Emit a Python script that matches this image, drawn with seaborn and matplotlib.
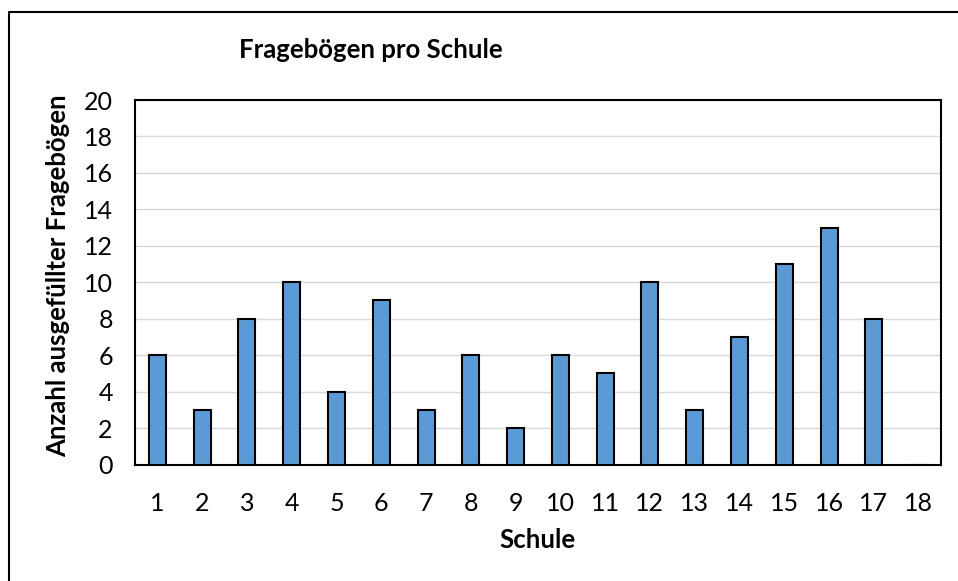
import matplotlib
matplotlib.use("Agg")
import matplotlib.pyplot as plt
import seaborn as sns
import pandas as pd
from matplotlib.lines import Line2D

schools = [str(i) for i in range(1, 19)]
counts = [6, 3, 8, 10, 4, 9, 3, 6, 2, 6, 5, 10, 3, 7, 11, 13, 8, 0]
yticks = list(range(0, 21, 2))

title = "Fragebögen pro Schule"
xlabel = "Schule"
ylabel = "Anzahl ausgefüllter Fragebögen"

sns.set_theme(style="white")
plt.rcParams["font.family"] = ["Lato", "DejaVu Sans"]

W, H = 958, 581
fig = plt.figure(figsize=(W / 100, H / 100), dpi=100)
fig.patch.set_facecolor("white")

# outer chart frame (left and top edges visible)
fig.add_artist(Line2D([9 / W, 9 / W, 1.01], [-0.01, 1 - 12 / H, 1 - 12 / H],
                      transform=fig.transFigure, color="black", lw=1.5))

ax = fig.add_axes([135 / W, 1 - 464.5 / H, 806 / W, 364.5 / H])
df = pd.DataFrame({"Schule": schools, "Anzahl": counts})
sns.barplot(data=df, x="Schule", y="Anzahl", ax=ax, color="#5B9BD5",
            saturation=1, width=0.38, edgecolor="black", linewidth=1.5, zorder=3)

ax.set_xlim(-0.5, len(schools) - 0.5)
ax.set_ylim(0, 20)
ax.set_yticks(yticks)
ax.set_yticklabels([str(v) for v in yticks])
ax.grid(axis="y", color="#D9D9D9", lw=1, zorder=0)
ax.set_axisbelow(True)
for s in ax.spines.values():
    s.set_visible(True)
    s.set_color("black")
    s.set_linewidth(1.5)
ax.tick_params(axis="both", length=0, labelsize=18, colors="black")
ax.tick_params(axis="x", pad=20)
ax.tick_params(axis="y", pad=16)
ax.set_xlabel("")
ax.set_ylabel("")

fig.text(371 / W, 1 - 50 / H, title, ha="center", va="center",
         fontsize=18.5, fontweight="bold", color="black")
fig.text(537 / W, 1 - 540 / H, xlabel, ha="center", va="center",
         fontsize=18.5, fontweight="bold", color="black")
fig.text(58 / W, 1 - 276 / H, ylabel, ha="center", va="center", rotation=90,
         fontsize=18.5, fontweight="bold", color="black")

fig.savefig("out.png", dpi=100)
